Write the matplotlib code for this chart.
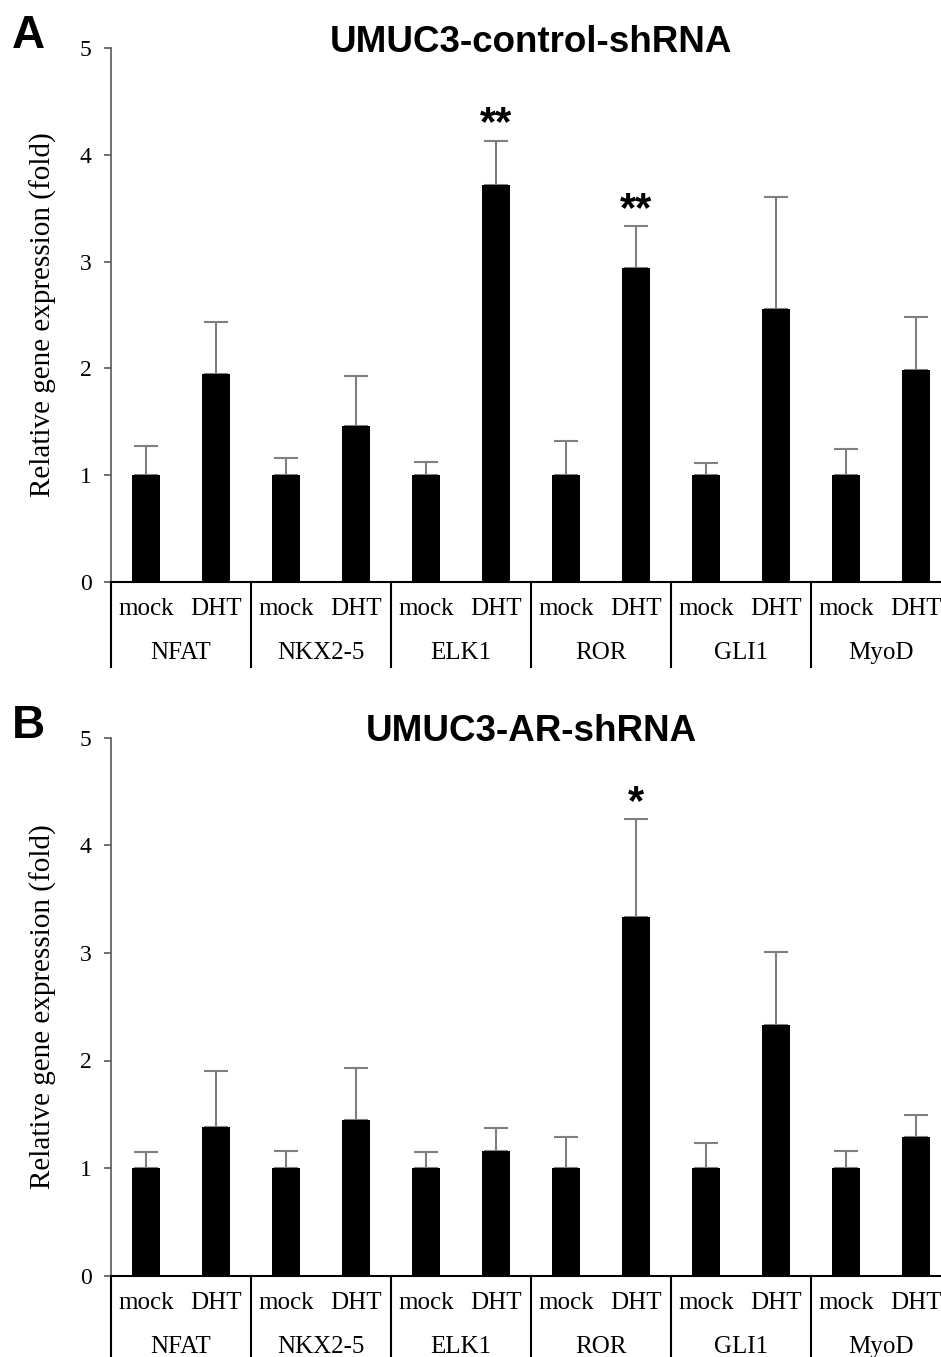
import matplotlib
matplotlib.use("Agg")
import matplotlib.pyplot as plt
import matplotlib.transforms as mtransforms
import numpy as np

genes = ["NFAT", "NKX2-5", "ELK1", "ROR", "GLI1", "MyoD"]
treatments = ["mock", "DHT"]

# panel A: UMUC3-control-shRNA (bar height and upper end of error bar)
ctrl_mock = [1, 1, 1, 1, 1, 1]
ctrl_mock_top = [1.27, 1.16, 1.12, 1.32, 1.11, 1.24]
ctrl_dht = [1.95, 1.46, 3.72, 2.94, 2.56, 1.98]
ctrl_dht_top = [2.43, 1.93, 4.13, 3.33, 3.61, 2.48]
ctrl_stars = ["", "", "**", "**", "", ""]

# panel B: UMUC3-AR-shRNA
ar_mock = [1, 1, 1, 1, 1, 1]
ar_mock_top = [1.15, 1.16, 1.15, 1.29, 1.23, 1.16]
ar_dht = [1.38, 1.45, 1.16, 3.33, 2.33, 1.29]
ar_dht_top = [1.90, 1.93, 1.37, 4.24, 3.01, 1.49]
ar_stars = ["", "", "", "*", "", ""]

SERIF = "Liberation Serif"
SANS = "Liberation Sans"
AXIS_GREY = "#595959"


def draw_panel(ax, mock, mock_top, dht, dht_top, stars, title, letter, fig):
    n = len(genes)
    x = np.arange(2 * n) + 0.5
    vals = np.ravel(np.column_stack([mock, dht]))
    tops = np.ravel(np.column_stack([mock_top, dht_top]))

    ax.errorbar(x, vals, yerr=[np.zeros_like(vals), tops - vals], fmt="none",
                ecolor="#7f7f7f", elinewidth=1.5, capsize=8.5, capthick=1.5, zorder=1)
    ax.bar(x, vals, width=0.4, color="black", zorder=2)

    for i, s in enumerate(stars):
        if s:
            ax.annotate(s, xy=(2 * i + 1.5, dht_top[i]), xytext=(0, 4),
                        textcoords="offset points", ha="center", va="baseline",
                        fontsize=30, fontweight="bold", family=SANS)

    ax.set_xlim(0, 2 * n)
    ax.set_ylim(0, 5)
    ax.set_yticks(range(6))
    ax.set_xticks([])
    for sp in ("top", "right"):
        ax.spines[sp].set_visible(False)
    ax.spines["left"].set_color(AXIS_GREY)
    ax.spines["left"].set_linewidth(1.2)
    ax.spines["bottom"].set_color("black")
    ax.spines["bottom"].set_linewidth(1.5)
    ax.tick_params(axis="y", direction="out", length=5, width=1.2, color=AXIS_GREY,
                   pad=9, labelsize=17)
    for lab in ax.get_yticklabels():
        lab.set_family(SERIF)

    # two-level category axis
    for j, xx in enumerate(x):
        ax.annotate(treatments[j % 2], xy=(xx, 0), xycoords=("data", "axes fraction"),
                    xytext=(0, -20), textcoords="offset points", ha="center",
                    va="center", fontsize=18, family=SERIF)
    for i, g in enumerate(genes):
        ax.annotate(g, xy=(2 * i + 1, 0), xycoords=("data", "axes fraction"),
                    xytext=(0, -51), textcoords="offset points", ha="center",
                    va="center", fontsize=18, family=SERIF)
    trans = mtransforms.blended_transform_factory(ax.transData, ax.transAxes)
    for b in range(0, 2 * n + 1, 2):
        ax.plot([b, b], [0, -0.16], transform=trans, clip_on=False,
                color="black", lw=1.5)

    ax.set_ylabel("Relative gene expression (fold)", fontsize=21, family=SERIF)
    ax.yaxis.set_label_coords(-0.064, 0.5)

    # title baseline sits just below the top of the y axis
    ax.annotate(title, xy=(0.5, 1), xycoords="axes fraction", xytext=(0, -2.5),
                textcoords="offset points", ha="center", va="baseline",
                fontsize=26.5, fontweight="bold", family=SANS)
    pos = ax.get_position()
    fig.text(12 / 941, pos.y1, letter, ha="left", va="baseline",
             fontsize=33, fontweight="bold", family=SANS)


fig = plt.figure(figsize=(9.41, 13.57), dpi=100)
left = 111 / 941
width = 840 / 941
ax_a = fig.add_axes([left, 1 - 581.7 / 1357, width, 533.4 / 1357])
ax_b = fig.add_axes([left, 1 - 1275.7 / 1357, width, 538 / 1357])

draw_panel(ax_a, ctrl_mock, ctrl_mock_top, ctrl_dht, ctrl_dht_top, ctrl_stars,
           "UMUC3-control-shRNA", "A", fig)
draw_panel(ax_b, ar_mock, ar_mock_top, ar_dht, ar_dht_top, ar_stars,
           "UMUC3-AR-shRNA", "B", fig)

fig.savefig("out.png", dpi=100)
plt.close(fig)
